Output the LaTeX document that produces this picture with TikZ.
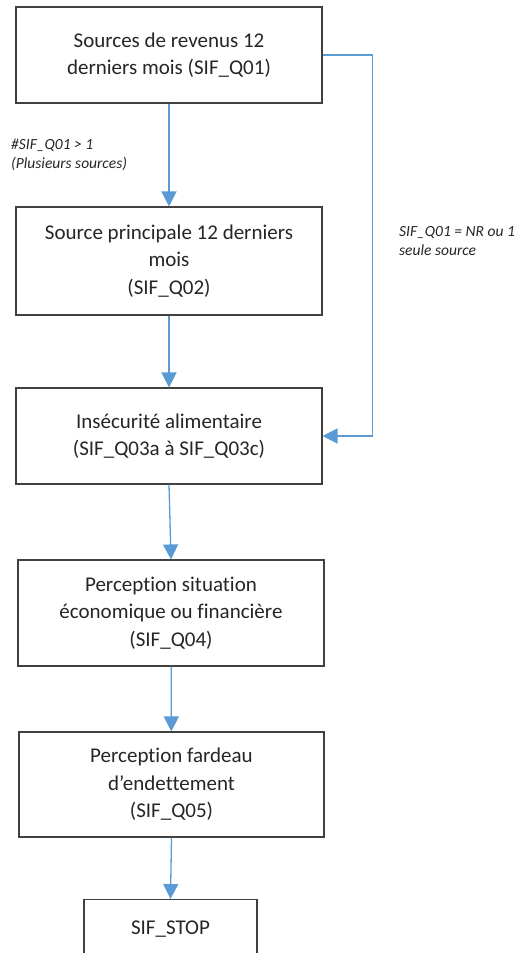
\documentclass[tikz,border=0pt]{standalone}
\usepackage{fontspec}
\setmainfont{Carlito}[Ligatures=NoCommon]
\usetikzlibrary{arrows.meta}
\definecolor{boxline}{HTML}{404040}
\definecolor{arrblue}{HTML}{5B9BD5}
\definecolor{txt}{HTML}{262626}
\tikzset{
  box/.style={draw=boxline, line width=1.1pt, rectangle, align=center, text=txt,
    inner sep=0pt, font=\fontsize{21}{27.5}\selectfont},
  arr/.style={draw=arrblue, line width=1.3pt, -{Triangle[width=15pt,length=15pt]}},
  lbl/.style={text=txt, align=left, anchor=west, inner sep=0pt,
    font=\fontsize{15.5}{19.5}\selectfont\itshape}
}
\begin{document}
\begin{tikzpicture}[x=1pt,y=-1pt]
\clip (0,0) rectangle (530,953);
\fill[white] (0,0) rectangle (530,953);
\node[box, minimum width=306pt, minimum height=96pt] (b1) at (169,55)
  {Sources de revenus 12\\derniers mois (SIF\_Q01)};
\node[box, minimum width=306pt, minimum height=108pt] (b2) at (169,261)
  {Source principale 12 derniers\\mois\\(SIF\_Q02)};
\node[box, minimum width=306pt, minimum height=96pt] (b3) at (169,436)
  {Insécurité alimentaire\\(SIF\_Q03a à SIF\_Q03c)};
\node[box, minimum width=306pt, minimum height=106pt] (b4) at (171,613)
  {Perception situation\\économique ou financière\\(SIF\_Q04)};
\node[box, minimum width=305pt, minimum height=105pt] (b5) at (171.5,784.5)
  {Perception fardeau\\d’endettement\\(SIF\_Q05)};
\node[box, minimum width=173pt, minimum height=60pt, anchor=north] (b6) at (170.5,899)
  {SIF\_STOP};
\draw[arr] (b1) -- (b2);
\draw[arr] (b2) -- (b3);
\draw[arr] (b3.south) -- (b4.north);
\draw[arr] (b4) -- (b5);
\draw[arr] (b5.south) -- (b6.north);
\draw[arr] (b1.east) -- ++(50,0) coordinate (c1) |- (b3.east);
\node[lbl] (l1) at (11,155) {\#SIF\_Q01 > 1\\(Plusieurs sources)};
\node[lbl] (l2) at (399,241) {SIF\_Q01 = NR ou 1\\seule source};
\end{tikzpicture}
\end{document}
